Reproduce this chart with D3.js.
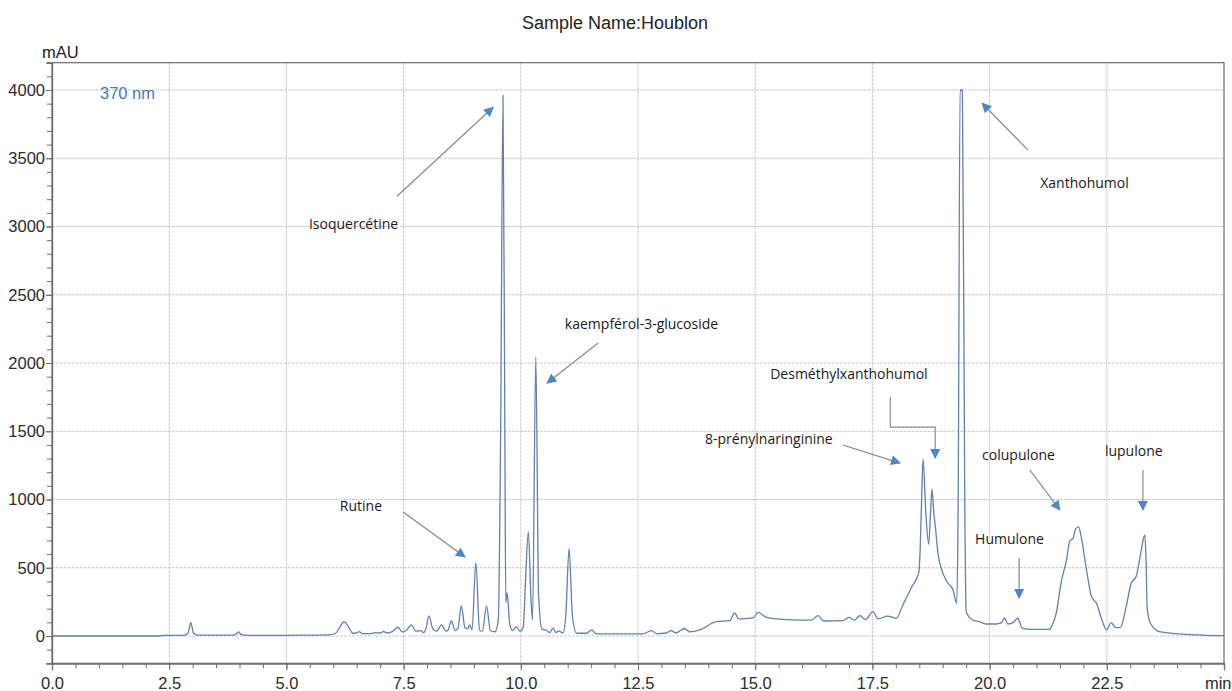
<!DOCTYPE html>
<html>
<head>
<meta charset="utf-8">
<script src="https://cdn.jsdelivr.net/npm/d3@7"></script>
<style>
  html, body { margin: 0; padding: 0; background: #ffffff; }
  svg { display: block; }
</style>
</head>
<body>
<svg id="chart" width="1232" height="691"></svg>
<script>
// ---------------- DATA ----------------
const chartTitle = "Sample Name:Houblon";
const yUnit = "mAU";
const xUnit = "min";
const wavelength = "370 nm";

const xTicks = [0, 2.5, 5, 7.5, 10, 12.5, 15, 17.5, 20, 22.5, 25];
const yTicks = [0, 500, 1000, 1500, 2000, 2500, 3000, 3500, 4000];

// retention time (min)
const times = [
  0.0, 2.3, 2.4, 2.8, 2.9, 2.96, 3.02, 3.1, 3.85, 3.93, 3.98, 4.04, 4.2, 5.5, 5.9,
  6.05, 6.15, 6.23, 6.32, 6.42, 6.5, 6.55, 6.62, 6.8, 6.9, 7.0, 7.07, 7.15, 7.25, 7.38,
  7.47, 7.55, 7.67, 7.76, 7.86, 7.93, 7.98, 8.04, 8.12, 8.2, 8.31, 8.4, 8.45, 8.52, 8.6,
  8.66, 8.73, 8.81, 8.87, 8.91, 8.96, 9.04, 9.12, 9.18, 9.27, 9.35, 9.45, 9.52, 9.57, 9.62,
  9.66, 9.68, 9.71, 9.76, 9.82, 9.91, 9.98, 10.05, 10.1, 10.16, 10.22, 10.25, 10.32, 10.38, 10.45,
  10.55, 10.62, 10.69, 10.75, 10.81, 10.9, 10.96, 11.03, 11.1, 11.19, 11.4, 11.51, 11.6, 11.83, 12.6,
  12.79, 12.9, 13.1, 13.21, 13.3, 13.5, 13.6, 13.82, 14.17, 14.46, 14.56, 14.65, 14.81, 14.97, 15.06,
  15.24, 15.59, 15.95, 16.2, 16.34, 16.46, 16.87, 17.0, 17.12, 17.24, 17.35, 17.51, 17.62, 17.83, 18.01,
  18.15, 18.33, 18.49, 18.52, 18.55, 18.58, 18.64, 18.70, 18.74, 18.77, 18.81, 18.85, 18.9, 19.08, 19.22,
  19.30, 19.33, 19.37, 19.42, 19.47, 19.5, 19.64, 19.78, 19.92, 20.14, 20.25, 20.32, 20.39, 20.5, 20.6,
  20.7, 20.89, 21.1, 21.28, 21.32, 21.42, 21.53, 21.64, 21.71, 21.78, 21.83, 21.90, 21.95, 22.06, 22.17,
  22.29, 22.38, 22.5, 22.59, 22.69, 22.79, 22.91, 23.02, 23.13, 23.23, 23.31, 23.34, 23.36, 23.43, 23.62,
  24.05, 24.62, 25.0
];
// absorbance (mAU)
const absorbance = [
  0, 0, 4, 5, 20, 97, 20, 6, 6, 15, 30, 10, 5, 6, 8,
  20, 70, 105, 70, 20, 22, 32, 18, 18, 25, 22, 33, 22, 30, 64,
  30, 38, 81, 35, 40, 25, 60, 147, 55, 35, 81, 35, 45, 110, 40,
  55, 220, 60, 55, 81, 45, 537, 45, 35, 220, 40, 30, 120, 1500, 3960,
  1500, 245, 315, 100, 40, 68, 35, 60, 400, 765, 250, 117, 2044, 300, 50,
  40, 25, 58, 25, 38, 22, 150, 642, 150, 20, 20, 45, 18, 15, 15,
  40, 17, 22, 40, 22, 55, 30, 45, 105, 112, 170, 125, 128, 135, 173,
  137, 122, 117, 117, 149, 110, 112, 137, 117, 150, 120, 178, 125, 146, 130,
  227, 354, 464, 647, 1000, 1295, 900, 672, 900, 1075, 900, 777, 600, 403, 337,
  240, 1000, 4000, 4000, 1000, 178, 117, 105, 88, 88, 98, 130, 88, 98, 130,
  56, 49, 49, 49, 68, 165, 398, 556, 696, 715, 781, 799, 733, 500, 293,
  232, 134, 44, 98, 61, 61, 210, 386, 440, 618, 740, 530, 210, 93, 32,
  15, 5, 3
];

// peak annotations: label, label anchor (time, mAU), arrow path points (time, mAU)
const peakLabels = ["Isoquercétine", "kaempférol-3-glucoside", "Xanthohumol", "Desméthylxanthohumol",
                    "8-prénylnaringinine", "Rutine", "colupulone", "Humulone", "lupulone"];
const labelAt = [[5.48, 2981], [10.94, 2248], [21.08, 3281], [15.32, 1882],
                 [13.93, 1406], [6.14, 915], [19.84, 1289], [19.69, 674], [22.46, 1318]];
const arrowPaths = [
  [[7.36, 3222], [9.41, 3874]],
  [[11.65, 2146], [10.56, 1853]],
  [[20.82, 3559], [19.84, 3903]],
  [[17.88, 1750], [17.88, 1530], [18.84, 1530], [18.84, 1304]],
  [[16.87, 1399], [18.09, 1267]],
  [[7.49, 908], [8.81, 579]],
  [[20.86, 1216], [21.50, 923]],
  [[20.63, 571], [20.63, 278]],
  [[23.27, 1216], [23.27, 923]]
];

// ---------------- CHART ----------------
const svg = d3.select("#chart");
const L = 52, R = 1224, T = 62.7, B = 663.3;

const x = d3.scaleLinear().domain([0, 25]).range([L, R]);
const y = d3.scaleLinear().domain([-200, 4200]).range([B, T]);

const font = "'Liberation Sans', Arial, sans-serif";

// grid
const grid = svg.append("g");
grid.selectAll("line.gx").data(xTicks.filter(d => d > 0 && d < 25)).join("line")
  .attr("x1", d => x(d)).attr("x2", d => x(d)).attr("y1", T).attr("y2", B)
  .attr("stroke", "#c9c9c9").attr("stroke-width", 1).attr("stroke-dasharray", "3,1");
grid.selectAll("line.gy").data(yTicks).join("line")
  .attr("x1", L).attr("x2", R).attr("y1", d => y(d)).attr("y2", d => y(d))
  .attr("stroke", "#c9c9c9").attr("stroke-width", 1).attr("stroke-dasharray", "3,1");

// frame
svg.append("rect").attr("x", L).attr("y", T).attr("width", R - L).attr("height", B - T)
  .attr("fill", "none").attr("stroke", "#6e6e6e").attr("stroke-width", 1.2);

// axes
const yMinor = d3.range(-200, 4201, 100);
const xMinor = d3.range(0, 25.01, 0.5);

const gyMinor = svg.append("g").attr("transform", `translate(${L},0)`)
  .call(d3.axisLeft(y).tickValues(yMinor).tickSize(5).tickFormat(""));
const gy = svg.append("g").attr("transform", `translate(${L},0)`)
  .call(d3.axisLeft(y).tickValues(yTicks).tickSize(6).tickPadding(1).tickFormat(d3.format("d")));
const gxMinor = svg.append("g").attr("transform", `translate(0,${B})`)
  .call(d3.axisBottom(x).tickValues(xMinor).tickSize(5).tickFormat(""));
const gx = svg.append("g").attr("transform", `translate(0,${B})`)
  .call(d3.axisBottom(x).tickValues(xTicks).tickSize(7).tickPadding(7)
    .tickFormat(d => d === 25 ? xUnit : d3.format(".1f")(d)));

[gyMinor, gy, gxMinor, gx].forEach(g => {
  g.select(".domain").attr("stroke", "#6e6e6e").attr("stroke-width", 1.2);
  g.selectAll(".tick line").attr("stroke", "#6e6e6e");
  g.selectAll("text").attr("font-family", font).attr("font-size", 16.5).attr("fill", "#2b2b2b");
});
gx.selectAll(".tick text").filter(d => d === 25).attr("text-anchor", "end").attr("dx", "7");

// trace
const pts = times.map((t, i) => [t, absorbance[i]]);
svg.append("path").datum(pts)
  .attr("fill", "none").attr("stroke", "#6381aa").attr("stroke-width", 1.3)
  .attr("stroke-linejoin", "round")
  .attr("d", d3.line().curve(d3.curveMonotoneX).x(d => x(d[0])).y(d => y(d[1])));

// texts
svg.append("text").attr("x", 615).attr("y", 29).attr("text-anchor", "middle")
  .attr("font-family", font).attr("font-size", 18).attr("fill", "#222").text(chartTitle);
svg.append("text").attr("x", 42).attr("y", 58)
  .attr("font-family", font).attr("font-size", 16.5).attr("fill", "#222").text(yUnit);
svg.append("text").attr("x", 100).attr("y", 99)
  .attr("font-family", font).attr("font-size", 16.5).attr("fill", "#4a7ab8").text(wavelength);

// annotations
const defs = svg.append("defs");
defs.append("marker").attr("id", "ah").attr("viewBox", "0 0 10 10")
  .attr("refX", 9).attr("refY", 5).attr("markerWidth", 11).attr("markerHeight", 10)
  .attr("markerUnits", "userSpaceOnUse").attr("orient", "auto")
  .append("path").attr("d", "M0,0 L10,5 L0,10 Z").attr("fill", "#4f86c6");

const ann = svg.append("g");
arrowPaths.forEach(p => {
  ann.append("path")
    .attr("d", d3.line().x(d => x(d[0])).y(d => y(d[1]))(p))
    .attr("fill", "none").attr("stroke", "#8a8a8a").attr("stroke-width", 1.2)
    .attr("marker-end", "url(#ah)");
});
peakLabels.forEach((lab, i) => {
  ann.append("text").attr("x", x(labelAt[i][0])).attr("y", y(labelAt[i][1]))
    .attr("font-family", "'Open Sans', sans-serif").attr("font-size", 14)
    .attr("fill", "#1a1a1a").text(lab);
});
</script>
</body>
</html>
